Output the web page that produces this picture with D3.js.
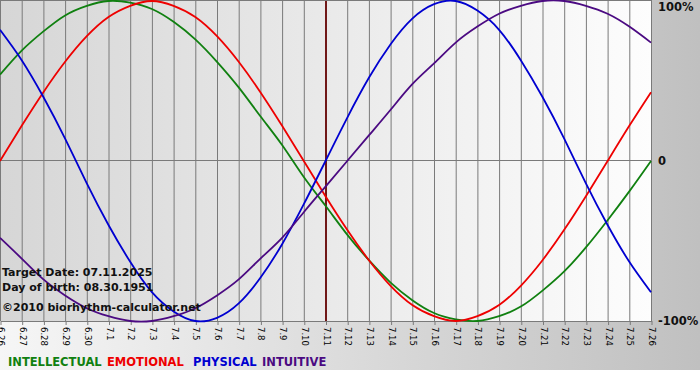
<!DOCTYPE html>
<html>
<head>
<meta charset="utf-8">
<script src="https://cdn.jsdelivr.net/npm/d3@7"></script>
<style>
  body { margin: 0; background: #fff; }
  svg { display: block; }
  text { font-family: "DejaVu Sans", Verdana, sans-serif; }
</style>
</head>
<body>
<div id="chart"></div>
<script>
const width = 700;
const height = 380;
const plot = {left: 0, top: 1, right: 651, bottom: 321};

// day labels along the bottom
const days = ["6.26","6.27","6.28","6.29","6.30","7.1","7.2","7.3","7.4","7.5","7.6","7.7","7.8","7.9","7.10",
  "7.11","7.12","7.13","7.14","7.15","7.16","7.17","7.18","7.19","7.20","7.21","7.22","7.23","7.24","7.25","7.26"];
const targetDay = "7.11";

// cycle values (-1..1) per day
const physical = [0.82,0.63,0.40,0.14,-0.14,-0.40,-0.63,-0.82,-0.94,-1.00,-0.98,-0.89,-0.73,-0.52,-0.27,
  0,0.27,0.52,0.73,0.89,0.98,1.00,0.94,0.82,0.63,0.40,0.14,-0.14,-0.40,-0.63,-0.82];
const emotional = [0,0.22,0.43,0.62,0.78,0.90,0.97,1.00,0.97,0.90,0.78,0.62,0.43,0.22,0,
  -0.22,-0.43,-0.62,-0.78,-0.90,-0.97,-1.00,-0.97,-0.90,-0.78,-0.62,-0.43,-0.22,0,0.22,0.43];
const intellectual = [0.54,0.69,0.81,0.91,0.97,1.00,0.99,0.95,0.87,0.76,0.62,0.46,0.28,0.10,-0.10,
  -0.28,-0.46,-0.62,-0.76,-0.87,-0.95,-0.99,-1.00,-0.97,-0.91,-0.81,-0.69,-0.54,-0.37,-0.19,0];
const intuitive = [-0.48,-0.61,-0.74,-0.84,-0.92,-0.97,-1.00,-1.00,-0.97,-0.92,-0.84,-0.74,-0.61,-0.48,-0.32,
  -0.16,0,0.16,0.32,0.48,0.61,0.74,0.84,0.92,0.97,1.00,1.00,0.97,0.92,0.84,0.74];

const series = [
  {name: "INTELLECTUAL", values: intellectual, color: "#108010", lx: 8},
  {name: "EMOTIONAL", values: emotional, color: "#ee0000", lx: 107},
  {name: "PHYSICAL", values: physical, color: "#0000d0", lx: 193},
  {name: "INTUITIVE", values: intuitive, color: "#4b0a82", lx: 262}
];
const yTicks = [{v: 1, label: "100%"}, {v: 0, label: "0"}, {v: -1, label: "-100%"}];
const infoLines = ["Target Date: 07.11.2025", "Day of birth: 08.30.1951", "\u00a92010 biorhythm-calculator.net"];

const svg = d3.select("#chart").append("svg")
  .attr("width", width)
  .attr("height", height);

const defs = svg.append("defs");
const bgGrad = defs.append("linearGradient").attr("id", "bgGrad");
bgGrad.append("stop").attr("offset", "0%").attr("stop-color", "#f6f6f6");
bgGrad.append("stop").attr("offset", "100%").attr("stop-color", "#c0c0c0");
const plotGrad = defs.append("linearGradient").attr("id", "plotGrad");
plotGrad.append("stop").attr("offset", "0%").attr("stop-color", "#d6d6d6");
plotGrad.append("stop").attr("offset", "100%").attr("stop-color", "#fdfdfd");

// outer background
svg.append("rect")
  .attr("x", 0).attr("y", 0)
  .attr("width", width).attr("height", 370)
  .attr("fill", "url(#bgGrad)");

const x = d3.scalePoint()
  .domain(days)
  .range([plot.left, plot.right]);

const y = d3.scaleLinear()
  .domain([-1, 1])
  .range([plot.bottom, plot.top]);

svg.append("rect")
  .attr("x", plot.left).attr("y", plot.top)
  .attr("width", plot.right - plot.left)
  .attr("height", plot.bottom - plot.top)
  .attr("fill", "url(#plotGrad)");

// vertical day grid
svg.append("g")
  .selectAll("line")
  .data(days)
  .join("line")
  .attr("x1", d => x(d) + 0.5).attr("x2", d => x(d) + 0.5)
  .attr("y1", plot.top).attr("y2", plot.bottom)
  .attr("stroke", "#7a7a7a")
  .attr("stroke-width", 1);

// top border, zero line
svg.append("line")
  .attr("x1", plot.left).attr("x2", plot.right + 1)
  .attr("y1", plot.top - 0.5).attr("y2", plot.top - 0.5)
  .attr("stroke", "#7a7a7a");
svg.append("line")
  .attr("x1", plot.left).attr("x2", plot.right + 1)
  .attr("y1", Math.round(y(0)) - 0.5).attr("y2", Math.round(y(0)) - 0.5)
  .attr("stroke", "#7a7a7a");

// bottom axis with rotated day labels
const xAxis = svg.append("g")
  .attr("transform", "translate(0.5," + plot.bottom + ")")
  .call(d3.axisBottom(x).tickSize(4).tickSizeOuter(0));
xAxis.select(".domain").attr("stroke", "#7a7a7a");
xAxis.selectAll(".tick line").attr("stroke", "#7a7a7a");
xAxis.selectAll(".tick text")
  .attr("font-family", "DejaVu Sans, Verdana, sans-serif")
  .attr("font-size", "8.5px")
  .attr("fill", "#000")
  .attr("transform", "rotate(90)")
  .attr("x", 6)
  .attr("y", 0)
  .attr("dy", "0.35em")
  .attr("text-anchor", "start");

// target day marker
svg.append("line")
  .attr("x1", x(targetDay) + 0.5).attr("x2", x(targetDay) + 0.5)
  .attr("y1", plot.top).attr("y2", plot.bottom)
  .attr("stroke", "#701818")
  .attr("stroke-width", 2);

// curves
const line = d3.line()
  .x((d, i) => x(days[i]))
  .y(d => y(d))
  .curve(d3.curveNatural);

svg.append("g")
  .selectAll("path")
  .data(series)
  .join("path")
  .attr("d", d => line(d.values))
  .attr("fill", "none")
  .attr("stroke", d => d.color)
  .attr("stroke-width", 1.8);

// right percentage labels
svg.append("g")
  .selectAll("text")
  .data(yTicks)
  .join("text")
  .attr("x", 658)
  .attr("y", d => y(d.v))
  .attr("dy", d => d.v === 1 ? "0.85em" : "0.35em")
  .attr("font-size", "11.5px")
  .attr("font-weight", "bold")
  .attr("fill", "#111")
  .text(d => d.label);

// info text
svg.append("g")
  .selectAll("text")
  .data(infoLines)
  .join("text")
  .attr("x", 2)
  .attr("y", (d, i) => [276, 291, 311][i])
  .attr("font-size", "11px")
  .attr("font-weight", "bold")
  .attr("fill", "#111")
  .text(d => d);

// legend
svg.append("g")
  .selectAll("text")
  .data(series)
  .join("text")
  .attr("x", d => d.lx)
  .attr("y", 366)
  .attr("font-size", "11.5px")
  .attr("font-weight", "bold")
  .attr("fill", d => d.color)
  .text(d => d.name);
</script>
</body>
</html>
